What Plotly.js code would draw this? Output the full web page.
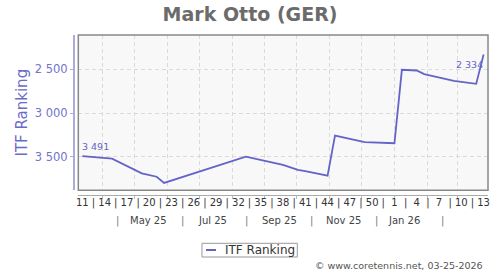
<!DOCTYPE html>
<html><head><meta charset="utf-8">
<script src="https://cdn.plot.ly/plotly-3.0.1.min.js"></script>
<style>html,body{margin:0;padding:0;background:#fff}#chart{width:500px;height:270px}</style>
</head><body><div id="chart"></div>
<script>
// Ranking data (one value per ISO week, dated at the Thursday of that week)
const pointDates = ['2025-03-13','2025-03-20','2025-04-10','2025-05-08','2025-05-22','2025-05-29',
  '2025-08-14','2025-09-18','2025-10-02','2025-10-09','2025-10-30','2025-11-06','2025-11-20',
  '2025-12-04','2026-01-01','2026-01-08','2026-01-22','2026-01-29','2026-02-26','2026-03-12',
  '2026-03-19','2026-03-26'];
const rankValues = [3491,3500,3519,3686,3725,3795,
  3497,3591,3648,3660,3713,3257,3298,
  3332,3344,2508,2516,2557,2633,2660,
  2668,2334];

// Week tick labels
const weekDates = ['2025-03-13','2025-04-03','2025-04-24','2025-05-15','2025-06-05','2025-06-26',
  '2025-07-17','2025-08-07','2025-08-28','2025-09-18','2025-10-09','2025-10-30','2025-11-20',
  '2025-12-11','2026-01-01','2026-01-22','2026-02-12','2026-03-05','2026-03-26'];
const weekLabels = ['11','14','17','20','23','26','29','32','35','38','41','44','47','50','1','4','7','10','13'];

// Month row labels
const monthLabelDates = ['2025-05-14','2025-07-14','2025-09-15','2025-11-14','2026-01-10'];
const monthLabels = ['May 25','Jul 25','Sep 25','Nov 25','Jan 26'];
const monthSepDates = ['2025-04-15','2025-06-15','2025-08-15','2025-10-15','2025-12-15','2026-02-15'];

const seriesName = 'ITF Ranking';
const chartTitle = 'Mark Otto (GER)';
const copyright = '\u00a9 www.coretennis.net, 03-25-2026';

const xRange = ['2025-03-09 05:00','2026-03-30 03:00'];
const yRange = [3880, 2112];
const lineColor = '#6464c8';

function fmtNum(v){ return String(v).replace(/\B(?=(\d{3})+(?!\d))/g,' '); }
function toStr(ms){ return new Date(ms).toISOString().slice(0,19).replace('T',' '); }

const tickVals = [], tickText = [];
for (let i = 0; i < weekDates.length; i++) {
  tickVals.push(weekDates[i]); tickText.push(weekLabels[i]);
  if (i < weekDates.length - 1) {
    const a = Date.parse(weekDates[i]), b = Date.parse(weekDates[i+1]);
    tickVals.push(toStr((a+b)/2)); tickText.push('|');
  }
}

const traces = [
  {x: pointDates, y: rankValues, type:'scatter', mode:'lines', name: seriesName,
   line:{color: lineColor, width:1.8}, hoverinfo:'skip', showlegend:false},
  {x: [pointDates[0]], y: [null], xaxis:'x2', yaxis:'y', type:'scatter', mode:'lines',
   showlegend:false, hoverinfo:'skip'}
];

const annotations = [];
const n = rankValues.length;
annotations.push({x: pointDates[0], y: rankValues[0], xref:'x', yref:'y', text: fmtNum(rankValues[0]),
  showarrow:false, xanchor:'left', yanchor:'bottom', yshift:2, xshift:-2,
  font:{size:9.5, color: lineColor}});
annotations.push({x: pointDates[n-1], y: rankValues[n-1], xref:'x', yref:'y', text: fmtNum(rankValues[n-1]),
  showarrow:false, xanchor:'right', yanchor:'top', yshift:-2, xshift:1,
  font:{size:9.5, color: lineColor}});
monthLabels.forEach((t,i)=>annotations.push({x: monthLabelDates[i], y:-0.161, xref:'x', yref:'paper', text:t,
  showarrow:false, xanchor:'center', yanchor:'middle', font:{size:10, color:'#444'}}));
monthSepDates.forEach(d=>annotations.push({x: d, y:-0.161, xref:'x', yref:'paper', text:'|',
  showarrow:false, xanchor:'center', yanchor:'middle', font:{size:10, color:'#777777'}}));
annotations.push({x:1, y:-0.442, xref:'paper', yref:'paper', text: copyright, showarrow:false,
  xanchor:'right', yanchor:'middle', xshift:-3, font:{size:9.5, color:'#555'}});
// legend text
annotations.push({x:0.3622, y:-0.34375, xref:'paper', yref:'paper', text: seriesName, showarrow:false,
  xanchor:'left', yanchor:'middle', font:{size:12, color:'#333'}});

const layout = {
  width:500, height:270,
  margin:{l:73, r:12, t:35, b:75, pad:0, autoexpand:false},
  paper_bgcolor:'#ffffff', plot_bgcolor:'#f8f8f8',
  font:{family:'DejaVu Sans, sans-serif', size:10, color:'#444'},
  separators:'. ',
  title:{text: chartTitle, x:0.5, xref:'container', xanchor:'center', y:0.947, yref:'container', yanchor:'middle',
    font:{family:'DejaVu Sans, sans-serif', size:19, color:'#6b6b6b', weight:'bold'}},
  xaxis:{type:'date', domain:[0.0128,1], range:xRange, anchor:'free', position:0,
    tickmode:'linear', tick0:'2025-04-01', dtick:'M1', showticklabels:false,
    ticks:'outside', ticklen:3, tickcolor:'#bbbbbb', tickwidth:1,
    showgrid:true, gridcolor:'#dadada', griddash:'4px,3px', gridwidth:1,
    showline:true, linecolor:'#aaaaaa', linewidth:1.2, zeroline:false, fixedrange:true},
  xaxis2:{type:'date', overlaying:'x', domain:[0.0128,1], range:xRange, anchor:'free', position:0,
    tickmode:'array', tickvals:tickVals, ticktext:tickText, ticks:'', tickangle:0,
    showgrid:false, showline:false, zeroline:false, tickfont:{size:10, color:'#333'}, fixedrange:true},
  yaxis:{domain:[0.029,1], range:yRange, anchor:'free', position:0,
    tickmode:'array', tickvals:[2500,3000,3500], separatethousands:true,
    ticks:'outside', ticklen:3, tickcolor:'#aaaadd', tickwidth:1,
    showline:true, linecolor:'#aaaadd', linewidth:1.5,
    showgrid:true, gridcolor:'#dadada', griddash:'4px,3px', gridwidth:1, zeroline:false,
    tickfont:{size:11.5, color:'#7373cc'},
    title:{text: seriesName, font:{size:15, color:'#6a6ac8'}, standoff:2}, fixedrange:true},
  shapes:[
    {type:'rect', xref:'x domain', yref:'y domain', x0:0, x1:1, y0:0, y1:1,
     line:{color:'#888888', width:1.5}, layer:'above'},
    // legend box and sample line
    {type:'rect', xref:'paper', yref:'paper', x0:0.3108, x1:0.5405, y0:-0.3875, y1:-0.3019,
     line:{color:'#999999', width:1}, fillcolor:'#ffffff'},
    {type:'line', xref:'paper', yref:'paper', x0:0.3205, x1:0.3446, y0:-0.34375, y1:-0.34375,
     line:{color:lineColor, width:2}}
  ],
  showlegend:false,
  annotations: annotations
};

Plotly.newPlot('chart', traces, layout, {displayModeBar:false, staticPlot:true});
</script>
</body></html>
